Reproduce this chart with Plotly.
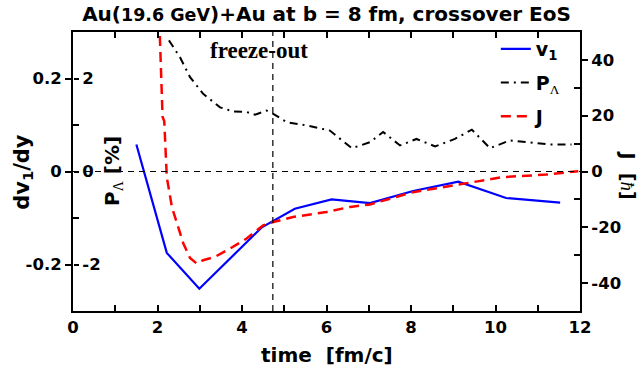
import plotly.graph_objects as go

# ---- data ----
v1_t = [1.5, 2.22, 2.99, 4.47, 5.25, 6.12, 7.03, 8.05, 9.12, 10.25, 11.53]
v1_vals = [0.058, -0.175, -0.252, -0.12, -0.08, -0.06, -0.068, -0.042, -0.022, -0.057, -0.067]

p_t = [2.27, 2.53, 2.77, 3.08, 3.48, 3.79, 4.11, 4.31, 4.58, 4.74, 5.06, 5.53, 6.08, 6.6,
       7.03, 7.34, 7.74, 8.13, 8.57, 9.04, 9.44, 9.87, 10.34, 10.82, 11.29, 11.8]
p_vals = [2.82, 2.46, 2.03, 1.67, 1.38, 1.29, 1.28, 1.22, 1.31, 1.24, 1.06, 0.99, 0.88, 0.5,
          0.63, 0.85, 0.56, 0.70, 0.54, 0.70, 0.90, 0.50, 0.67, 0.63, 0.58, 0.58]

j_t = [2.03, 2.12, 2.16, 2.22, 2.34, 2.49, 2.61, 2.77, 2.93, 3.08, 3.36, 3.72, 4.11, 4.5,
       4.74, 5.21, 6.0, 6.56, 7.03, 8.05, 9.12, 10.18, 11.2, 11.96]
j_vals = [60, 19.6, 18.0, -2, -12.7, -20, -25.7, -31, -33, -31.8, -30.6, -27.6, -24, -19.3,
          -18.1, -16.3, -14.5, -12.7, -11.8, -7.4, -4.8, -2.0, -1.1, 0.1]

freeze_out_t = 4.73

x_tickvals = list(range(0, 13))
x_ticktext = [str(v) if v % 2 == 0 else "" for v in x_tickvals]
dv_tickvals = [-0.2, 0, 0.2]
dv_ticktext = ["-0.2", "0", "0.2"]
p_tickvals = [-2, 0, 2]
p_ticktext = ["-2", "0", "2"]
j_tickvals = [-40, -20, 0, 20, 40]
j_ticktext = ["-40", "-20", "0", "20", "40"]

SANS = "DejaVu Sans"
SERIF = "Liberation Serif"


def bfont(size, family=SANS):
    return dict(family=family, size=size, color="black", weight="bold")


LAMBDA = "<span style='font-family:Liberation Serif;font-weight:normal'>Λ</span>"

fig = go.Figure()
fig.add_trace(go.Scatter(x=v1_t, y=v1_vals, mode="lines", yaxis="y",
                         line=dict(color="#0000ff", width=2.2),
                         name="v<sub>1</sub>", legendgroup="a"))
fig.add_trace(go.Scatter(x=p_t, y=p_vals, mode="lines", yaxis="y2",
                         line=dict(color="black", width=2, dash="8px,5px,2px,5px"),
                         name="P<sub>" + LAMBDA + "</sub>", legendgroup="b"))
fig.add_trace(go.Scatter(x=j_t, y=j_vals, mode="lines", yaxis="y3",
                         line=dict(color="#ff0000", width=2.5, dash="10px,6px"),
                         name="J", legendgroup="c"))


def axis_common():
    return dict(showgrid=False, zeroline=False, linecolor="black", linewidth=2,
                tickcolor="black", tickwidth=2, tickfont=bfont(16.5))


fig.update_layout(
    width=641, height=377,
    margin=dict(l=73, r=61, t=32, b=66),
    paper_bgcolor="white", plot_bgcolor="white",
    font=bfont(16.5),
    title=dict(text="Au(<span style='font-size:17.5px'>19.6 GeV</span>)+Au at b = 8 fm, crossover EoS",
               x=0.5, xref="paper", xanchor="center", y=0.964, yref="container", yanchor="middle",
               font=bfont(20)),
    xaxis=dict(range=[0, 12], tickvals=x_tickvals, ticktext=x_ticktext,
               ticks="inside", ticklen=6, showline=True, mirror="ticks", **axis_common()),
    yaxis=dict(range=[-0.3, 0.3], tickvals=dv_tickvals, ticktext=dv_ticktext,
               ticks="outside", ticklen=6, showline=True,
               minor=dict(tickvals=[-0.1, 0.1], ticks="inside", ticklen=6,
                          tickcolor="black", tickwidth=2),
               **axis_common()),
    yaxis2=dict(range=[-3, 3], tickvals=p_tickvals, ticktext=p_ticktext,
                overlaying="y", side="right", anchor="free", position=0,
                ticks="outside", ticklen=5, showline=False,
                **axis_common()),
    yaxis3=dict(range=[-50, 50], tickvals=j_tickvals, ticktext=j_ticktext,
                overlaying="y", side="right", anchor="x",
                ticks="outside", ticklen=6, showline=True,
                minor=dict(tickvals=[-30, -10, 10, 30], ticks="inside", ticklen=6,
                           tickcolor="black", tickwidth=2),
                **axis_common()),
    legend=dict(x=0.834, y=1.007, xanchor="left", yanchor="top",
                bgcolor="rgba(0,0,0,0)", traceorder="grouped", tracegroupgap=6,
                font=bfont(19)),
    showlegend=True,
)

# dashed reference lines
fig.add_shape(type="line", xref="x", yref="y", x0=0, x1=12, y0=0, y1=0,
              line=dict(color="black", width=1.2, dash="6px,5px"))
fig.add_shape(type="line", xref="x", yref="paper", x0=freeze_out_t, x1=freeze_out_t, y0=0, y1=1,
              line=dict(color="black", width=1.2, dash="6px,5px"))

fig.add_annotation(text="freeze-out", x=4.40, xref="x", y=0.935, yref="paper",
                   xanchor="center", yanchor="middle",
                   showarrow=False, font=bfont(23, SERIF))

# axis titles
fig.add_annotation(text="dv<sub>1</sub>/dy", x=-0.1, xref="paper", y=0.5, yref="paper",
                   xanchor="center", yanchor="middle",
                   showarrow=False, textangle=-90, font=bfont(21))
fig.add_annotation(text="P<sub>" + LAMBDA + "</sub> [%]",
                   x=0.079, xref="paper", y=0.502, yref="paper",
                   xanchor="center", yanchor="middle",
                   showarrow=False, textangle=-90, font=bfont(20))
fig.add_annotation(text="J\u00a0\u00a0[<i><span style='font-family:Liberation Serif;font-weight:normal'>ħ</span></i>]",
                   x=1.094, xref="paper", y=0.487, yref="paper",
                   xanchor="center", yanchor="middle",
                   showarrow=False, textangle=90, font=bfont(19))
fig.add_annotation(text="time\u00a0\u00a0[fm/c]", x=0.5, xref="paper", y=-0.158, yref="paper",
                   xanchor="center", yanchor="middle",
                   showarrow=False, font=bfont(20))

fig.write_html("out.html")
